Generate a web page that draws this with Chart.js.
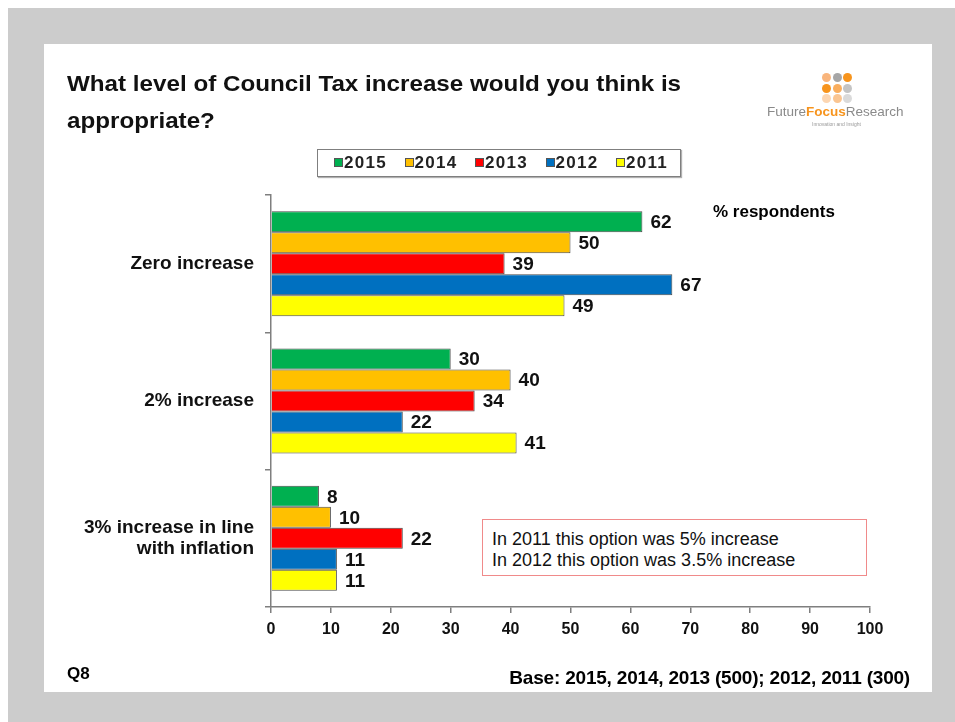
<!DOCTYPE html>
<html>
<head>
<meta charset="utf-8">
<script src="https://cdn.jsdelivr.net/npm/chart.js@4/dist/chart.umd.min.js"></script>
<style>
  html, body { margin: 0; padding: 0; background: #fff; }
  body { width: 955px; height: 722px; position: relative; overflow: hidden; font-family: "Liberation Sans", Arial, sans-serif; }
  #frame { position: absolute; left: 8px; top: 8px; width: 947px; height: 714px; background: #cccccc; }
  #slide { position: absolute; left: 44px; top: 44px; width: 888px; height: 648px; background: #fff; }
  #chartCanvas { position: absolute; left: 0; top: 0; }
  .txt { position: absolute; white-space: nowrap; color: #000; }
  .title { left: 67px; font-weight: bold; font-size: 22px; transform: scaleX(1.1); transform-origin: left top; color: #111; }
  .legend { position: absolute; left: 317px; top: 149px; width: 362px; height: 26px; border: 1px solid #7f7f7f; box-shadow: 1px 1px 1px #b0b0b0; background: #fff; }
  .legend .item { position: absolute; top: 3px; font-weight: bold; font-size: 17px; line-height: 20px; letter-spacing: 1.3px; color: #222; }
  .legend .sw { display: inline-block; width: 7px; height: 7px; margin-right: 1px; border: 1px solid #555; vertical-align: 1px; }
  .note { position: absolute; left: 482px; top: 519px; width: 383px; height: 55px; border: 1.5px solid #f08a8a; background: #fff; }
  .note div { position: absolute; left: 9px; font-size: 18px; color: #111; white-space: nowrap; }
  .dot { position: absolute; width: 9px; height: 9px; border-radius: 50%; }
  .brand { position: absolute; left: 767px; top: 104px; font-size: 13.5px; color: #8a8a8a; white-space: nowrap; }
  .brand b { color: #f7941d; }
  .tag { position: absolute; left: 812px; top: 121px; font-size: 5px; color: #999; white-space: nowrap; }
</style>
</head>
<body>
<div id="frame"></div>
<div id="slide"></div>
<canvas id="chartCanvas" width="955" height="722"></canvas>

<div class="txt title" style="top:71px;">What level of Council Tax increase would you think is</div>
<div class="txt title" style="top:108px;">appropriate?</div>

<div id="logo"></div>
<div class="brand">Future<b>Focus</b>Research</div>
<div class="tag">Innovation and Insight</div>

<div class="legend" id="legend"></div>

<div class="txt" style="left:713px; top:202px; font-weight:bold; font-size:17px;">% respondents</div>

<div class="note">
  <div style="top:9px;">In 2011 this option was 5% increase</div>
  <div style="top:30px;">In 2012 this option was 3.5% increase</div>
</div>

<div class="txt" style="left:67px; top:664px; font-weight:bold; font-size:17px;">Q8</div>
<div class="txt" style="right:45px; top:667px; font-weight:bold; font-size:19px; letter-spacing:-0.2px;">Base: 2015, 2014, 2013 (500); 2012, 2011 (300)</div>

<script>
var categories = ['Zero increase', '2% increase', ['3% increase in line', 'with inflation']];
var years = ['2015', '2014', '2013', '2012', '2011'];
var values2015 = [62, 30, 8];
var values2014 = [50, 40, 10];
var values2013 = [39, 34, 22];
var values2012 = [67, 22, 11];
var values2011 = [49, 41, 11];
var seriesValues = [values2015, values2014, values2013, values2012, values2011];
var seriesColors = ['#00B050', '#FFC000', '#FF0000', '#0070C0', '#FFFF00'];

// logo dots, 3 x 3
var dotColors = [
    ['#F9B57C', '#A6A6A6', '#F7941D'],
    ['#F7941D', '#F9AE5E', '#C4C4C4'],
    ['#FCD6B2', '#FAC591', '#DADADA']
];
var logo = document.getElementById('logo');
dotColors.forEach(function (row, r) {
    row.forEach(function (c, k) {
        var d = document.createElement('div');
        d.className = 'dot';
        d.style.left = (822 + k * 10.5) + 'px';
        d.style.top = (73 + r * 10.5) + 'px';
        d.style.background = c;
        logo.appendChild(d);
    });
});

// legend
var legend = document.getElementById('legend');
years.forEach(function (y, i) {
    var item = document.createElement('div');
    item.className = 'item';
    item.style.left = (16 + i * 70.5) + 'px';
    item.innerHTML = '<span class="sw" style="background:' + seriesColors[i] + '"></span>' + y;
    legend.appendChild(item);
});

var datasets = years.map(function (y, i) {
    return {
        label: y,
        data: seriesValues[i],
        backgroundColor: seriesColors[i],
        borderColor: '#4a4a4a',
        borderWidth: 1,
        categoryPercentage: 0.765,
        barPercentage: 1.0
    };
});

var barValueLabels = {
    id: 'barValueLabels',
    afterDatasetsDraw: function (chart) {
        var ctx = chart.ctx;
        ctx.save();
        ctx.font = 'bold 19px "Liberation Sans", Arial, sans-serif';
        ctx.fillStyle = '#111';
        ctx.textBaseline = 'middle';
        ctx.textAlign = 'left';
        chart.data.datasets.forEach(function (ds, i) {
            chart.getDatasetMeta(i).data.forEach(function (bar, j) {
                ctx.fillText(ds.data[j], bar.x + 8, bar.y + 1);
            });
        });
        ctx.restore();
    }
};

var ctx = document.getElementById('chartCanvas').getContext('2d');
var myBarChart = new Chart(ctx, {
    type: 'bar',
    data: { labels: categories, datasets: datasets },
    options: {
        indexAxis: 'y',
        responsive: false,
        animation: false,
        layout: { padding: { left: 0, top: 195, right: 85, bottom: 0 } },
        plugins: { legend: { display: false }, tooltip: { enabled: false } },
        scales: {
            y: {
                afterFit: function (scale) { scale.width = 271; },
                grid: { drawOnChartArea: false, drawTicks: true, tickLength: 6, color: '#7f7f7f', lineWidth: 1.5 },
                border: { display: true, color: '#7f7f7f', width: 1.5 },
                ticks: {
                    color: '#111',
                    padding: 11,
                    font: { family: '"Liberation Sans", Arial, sans-serif', size: 19, weight: 'bold', lineHeight: 1.15 }
                }
            },
            x: {
                min: 0,
                max: 100,
                afterFit: function (scale) { scale.height = 115; },
                grid: { drawOnChartArea: false, drawTicks: true, tickLength: 6, color: '#7f7f7f', lineWidth: 1.5 },
                border: { display: true, color: '#7f7f7f', width: 1.5 },
                ticks: {
                    stepSize: 10,
                    color: '#111',
                    padding: 7,
                    font: { family: '"Liberation Sans", Arial, sans-serif', size: 16, weight: 'bold' }
                }
            }
        }
    },
    plugins: [barValueLabels]
});
</script>
</body>
</html>
